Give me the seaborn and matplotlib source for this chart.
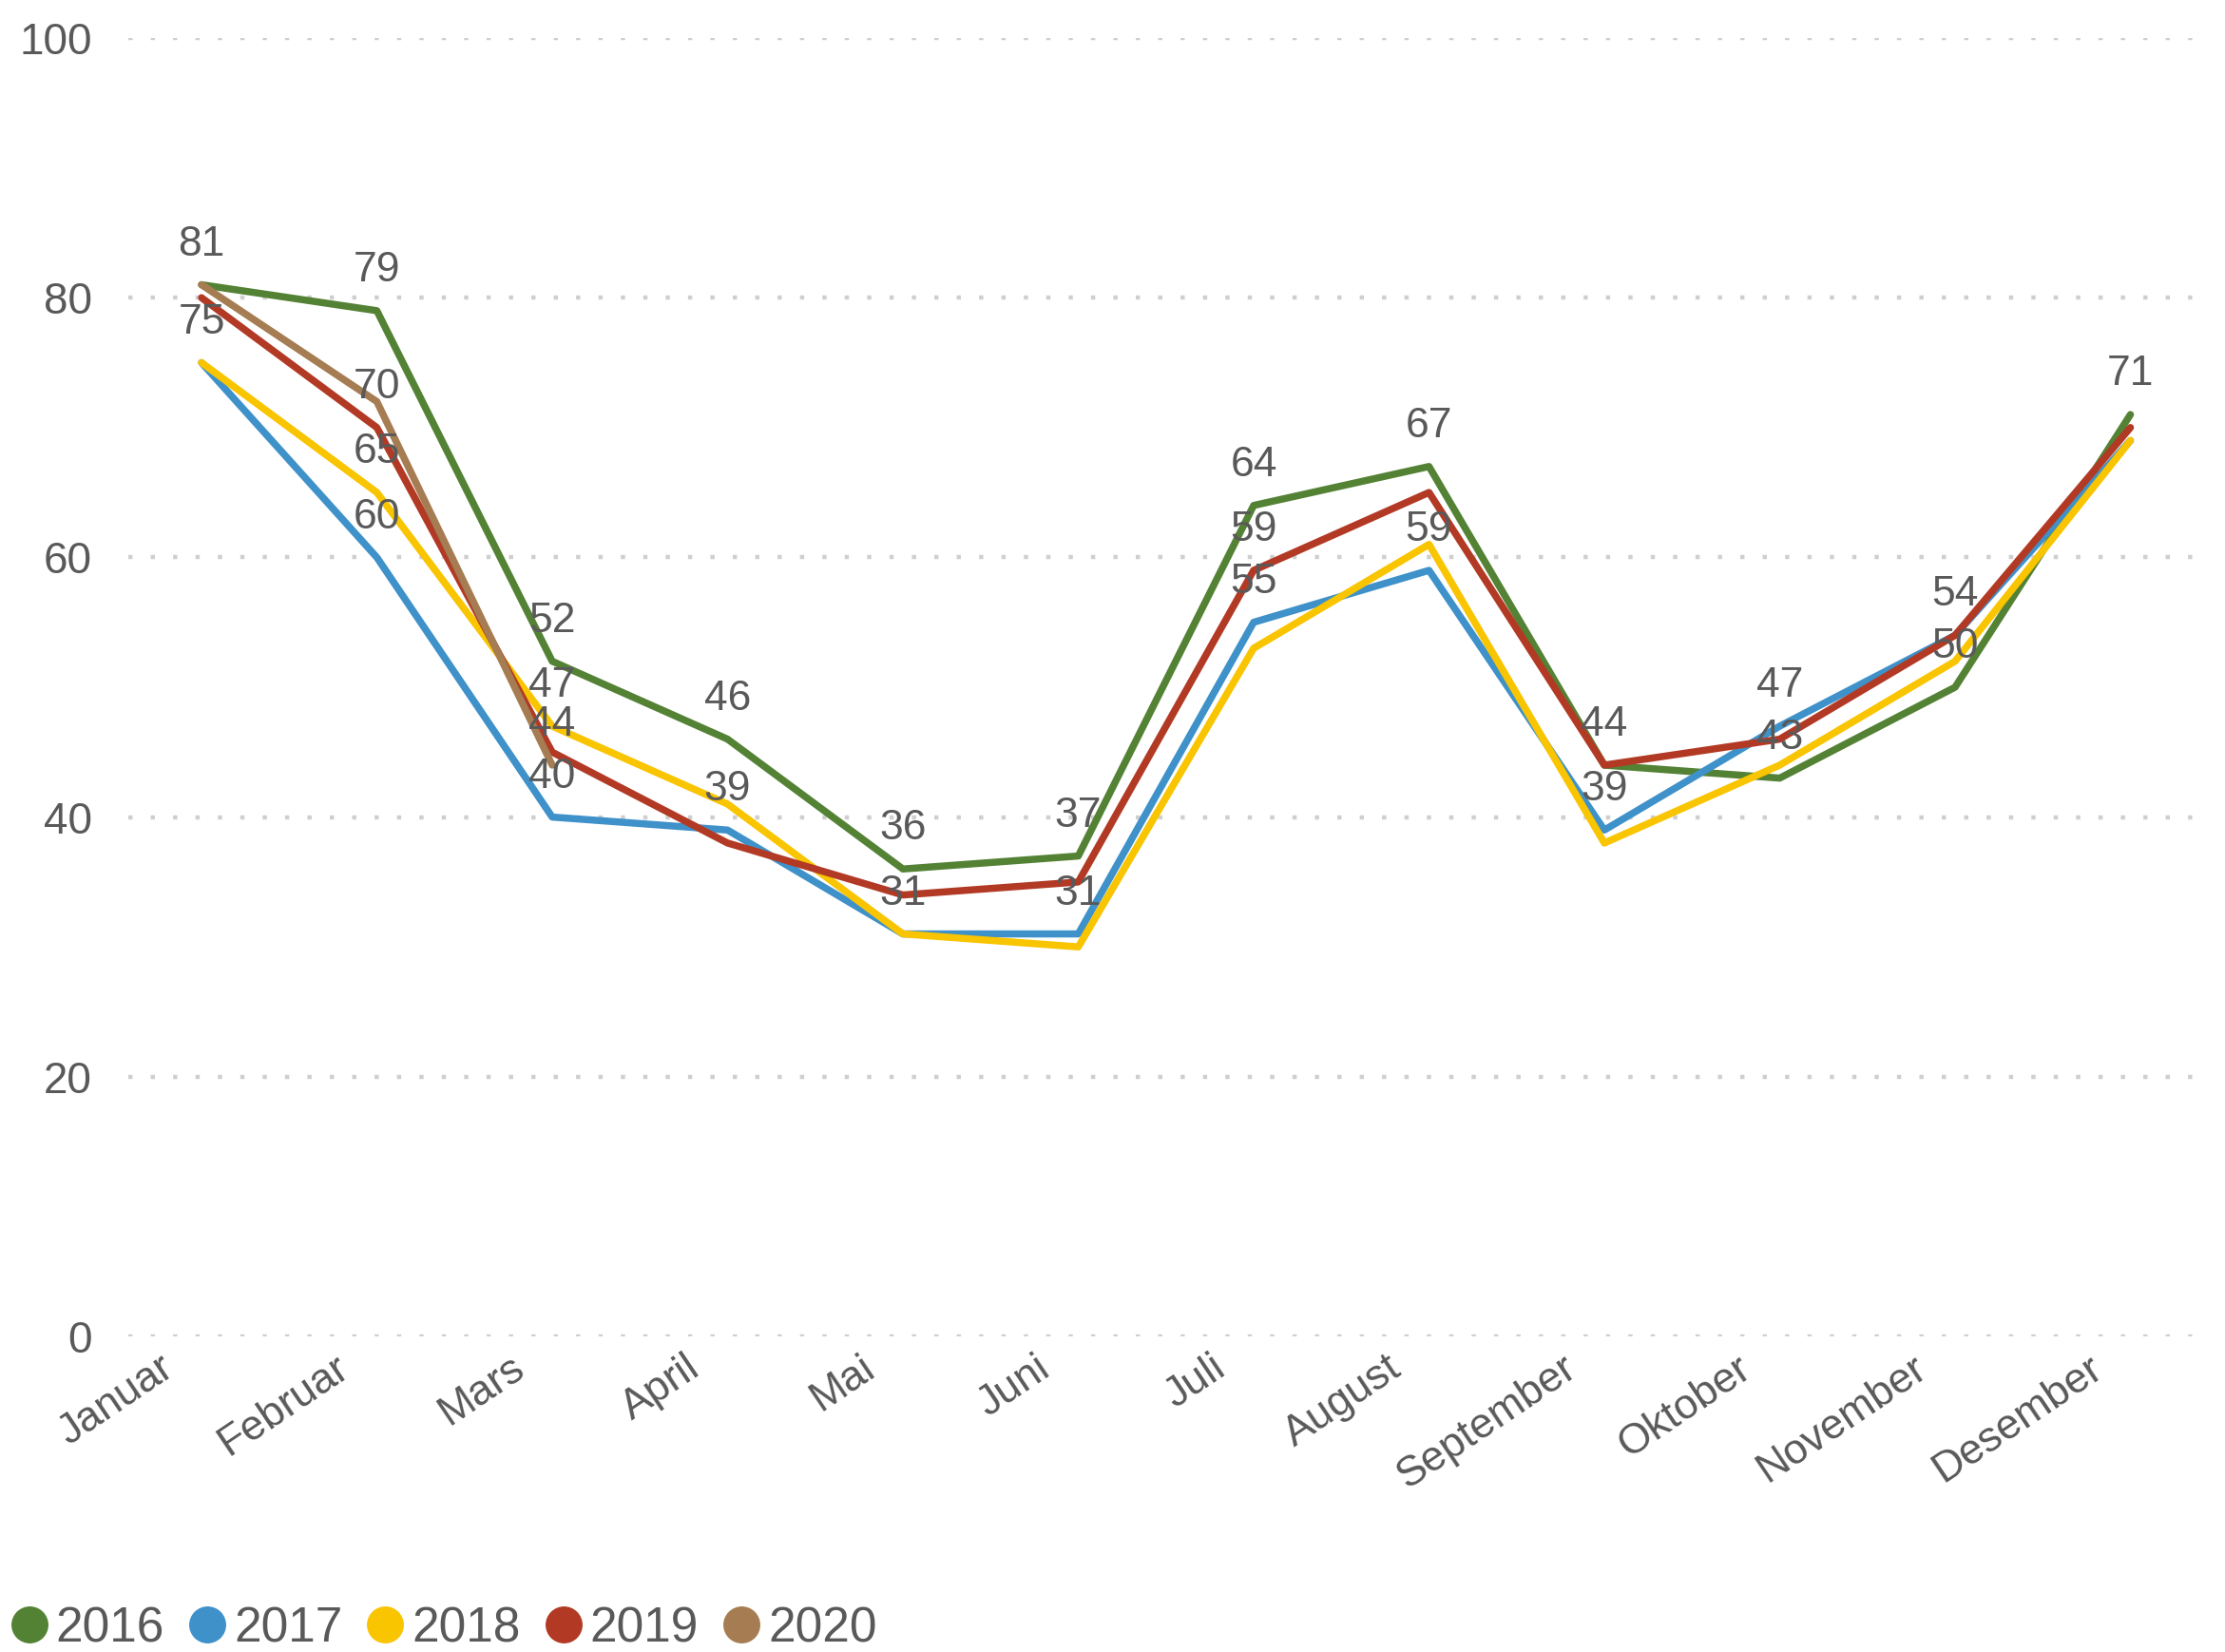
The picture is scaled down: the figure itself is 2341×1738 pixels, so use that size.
import numpy as np
import pandas as pd
import matplotlib
matplotlib.use("Agg")
import matplotlib.pyplot as plt
import matplotlib.transforms as mtransforms
from matplotlib.lines import Line2D
import seaborn as sns

months = ["Januar", "Februar", "Mars", "April", "Mai", "Juni", "Juli",
          "August", "September", "Oktober", "November", "Desember"]
years = ["2016", "2017", "2018", "2019", "2020"]

v2016 = [81, 79, 52, 46, 36, 37, 64, 67, 44, 43, 50, 71]
v2017 = [75, 60, 40, 39, 31, 31, 55, 59, 39, 47, 54, 69]
v2018 = [75, 65, 47, 41, 31, 30, 53, 61, 38, 44, 52, 69]
v2019 = [80, 70, 45, 38, 34, 35, 59, 65, 44, 46, 54, 70]
v2020 = [81, 72, 44]

# which points carry a data label (1 = labelled)
lab2016 = [1, 1, 1, 1, 1, 1, 1, 1, 1, 1, 1, 1]
lab2017 = [1, 1, 1, 1, 1, 1, 1, 1, 1, 1, 1, 0]
lab2018 = [0, 1, 1, 0, 0, 0, 0, 0, 0, 0, 0, 0]
lab2019 = [0, 1, 0, 0, 0, 0, 1, 0, 0, 0, 0, 0]
lab2020 = [0, 0, 1]

colors = ["#548235", "#3E91C9", "#F9C400", "#B23A25", "#A67C52"]
series = [v2016, v2017, v2018, v2019, v2020]
labels = [lab2016, lab2017, lab2018, lab2019, lab2020]

rows = []
for y, vals in zip(years, series):
    for m, v in zip(months, vals):
        rows.append({"Måned": m, "Verdi": v, "År": y})
df = pd.DataFrame(rows)

sns.set_theme(style="white")
plt.rcParams["font.family"] = ["Liberation Sans", "DejaVu Sans"]
TXT = "#595959"

fig = plt.figure(figsize=(23.41, 17.38), dpi=100)
W, H = 2341, 1738
x0, step = 212.0, 184.5
xmin, xmax = -0.42, 11.45
left, right = x0 + xmin * step, x0 + xmax * step
top, bottom = 40, 1406
ax = fig.add_axes([left / W, 1 - bottom / H, (right - left) / W, (bottom - top) / H])

sns.lineplot(data=df, x="Måned", y="Verdi", hue="År", hue_order=years,
             palette=dict(zip(years, colors)), linewidth=5.4, legend=False,
             sort=False, estimator=None, errorbar=None, ax=ax)
for ln in ax.lines:
    ln.set_solid_capstyle("round")
    ln.set_solid_joinstyle("round")

# data labels
for vals, labs in zip(series, labels):
    for i, (v, l) in enumerate(zip(vals, labs)):
        if l:
            ax.annotate(str(v), xy=(i, v), xytext=(0, 30.5), textcoords="offset points",
                        ha="center", va="center", fontsize=32, color=TXT, zorder=5)

ax.set_xlim(xmin, xmax)
ax.set_ylim(0, 100)
ax.set_yticks([0, 20, 40, 60, 80, 100])
ax.set_xlabel("")
ax.set_ylabel("")
for s in ax.spines.values():
    s.set_visible(False)
ax.yaxis.grid(True, color="#CFCFCF", linewidth=3.2, linestyle=(0, (1, 4.3)))
ax.xaxis.grid(False)
ax.set_axisbelow(True)
ax.tick_params(axis="y", length=0, pad=27, labelsize=33, labelcolor=TXT)
ax.tick_params(axis="x", length=0, pad=9, labelsize=32, labelcolor=TXT)
offset = mtransforms.ScaledTranslation(-45 / 100, 0, fig.dpi_scale_trans)
for lbl in ax.get_xticklabels():
    lbl.set_rotation(34)
    lbl.set_rotation_mode("anchor")
    lbl.set_ha("right")
    lbl.set_va("top")
    lbl.set_transform(lbl.get_transform() + offset)

handles = [Line2D([], [], marker="o", linestyle="none", markersize=27,
                  markerfacecolor=c, markeredgecolor=c) for c in colors]
fig.legend(handles, years, loc="lower left", bbox_to_anchor=(10 / W, 0.0),
           ncol=5, frameon=False, fontsize=37, labelcolor=TXT,
           handlelength=0.8, handletextpad=0.15, columnspacing=0.47,
           borderpad=0, borderaxespad=0)

fig.savefig("out.png", dpi=100, facecolor="white")
